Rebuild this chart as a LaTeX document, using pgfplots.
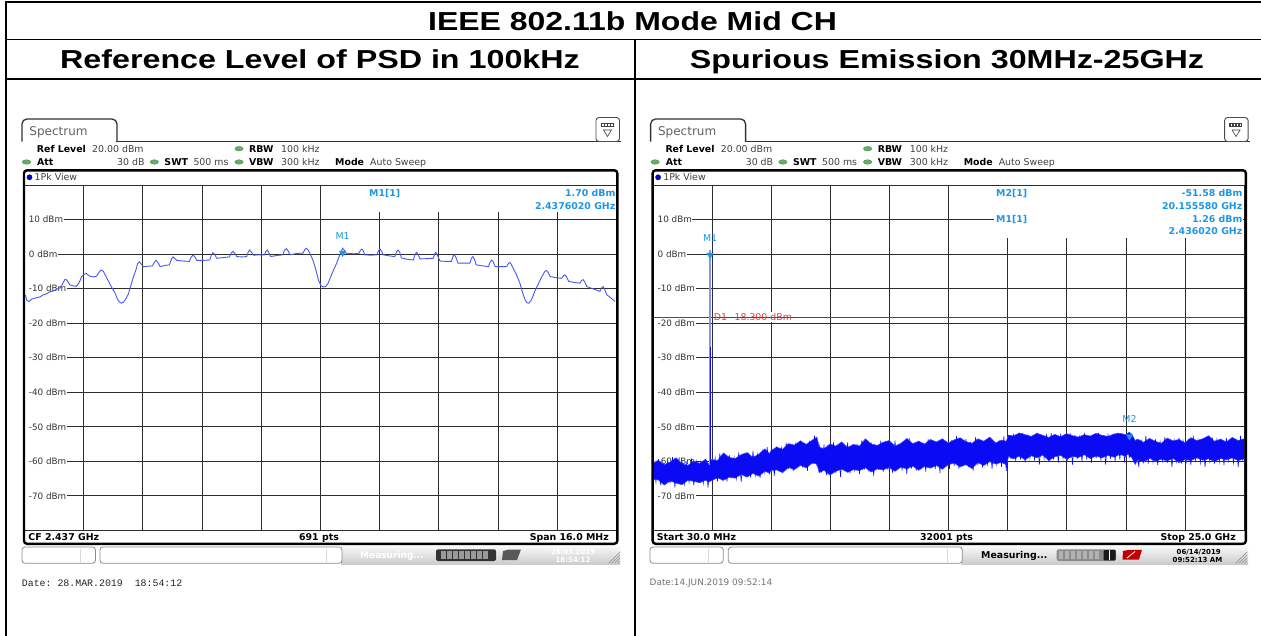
\documentclass[border=0pt]{standalone}
\usepackage{fontspec}
\setmainfont{DejaVu Sans}
\newfontfamily\titlef{Liberation Sans}
\newfontfamily\monof{Liberation Mono}
\usepackage{graphicx}
\usepackage{pgfplots}
\usepackage{pgfplotstable}
\pgfplotsset{compat=1.18}

\definecolor{mblue}{RGB}{30,150,230}
\definecolor{trc}{RGB}{70,90,240}
\definecolor{band}{RGB}{10,10,245}
\definecolor{bandedge}{RGB}{60,70,250}
\definecolor{spk}{RGB}{130,150,245}
\definecolor{gdot}{RGB}{100,175,100}
\definecolor{dred}{RGB}{240,60,60}
\definecolor{gridc}{RGB}{45,45,45}

\newcommand\fs[1]{\fontsize{#1bp}{#1bp}\selectfont}

\pgfplotstableread{
f dbm
-7.97 -11.8
-7.93 -13.4
-7.87 -13.7
-7.80 -13.0
-7.70 -12.7
-7.58 -12.4
-7.49 -11.8
-7.40 -11.5
-7.31 -10.9
-7.22 -10.7
-7.13 -10.2
-7.02 -9.7
-6.95 -8.2
-6.90 -7.3
-6.85 -7.5
-6.77 -8.9
-6.68 -9.2
-6.59 -9.3
-6.52 -8.3
-6.45 -6.5
-6.38 -5.8
-6.32 -5.6
-6.25 -6.3
-6.14 -6.6
-6.05 -6.4
-5.99 -5.4
-5.93 -4.6
-5.87 -4.9
-5.80 -6.3
-5.72 -8.0
-5.64 -9.6
-5.55 -11.2
-5.49 -12.8
-5.44 -13.8
-5.38 -14.2
-5.32 -13.9
-5.26 -13.0
-5.19 -11.6
-5.12 -9.0
-5.05 -6.5
-4.99 -4.8
-4.94 -2.8
-4.89 -2.2
-4.84 -2.9
-4.78 -3.6
-4.65 -3.5
-4.54 -3.4
-4.48 -2.3
-4.44 -1.8
-4.39 -2.4
-4.33 -3.6
-4.20 -3.3
-4.08 -3.1
-4.02 -1.3
-3.98 -0.8
-3.93 -1.3
-3.88 -1.8
-3.70 -2.0
-3.54 -2.1
-3.49 -0.8
-3.44 -0.3
-3.39 -0.8
-3.34 -1.8
-3.15 -1.8
-2.99 -1.7
-2.94 -0.1
-2.90 0.4
-2.85 -0.2
-2.80 -1.2
-2.62 -1.0
-2.46 -0.8
-2.41 0.3
-2.36 0.8
-2.31 0.2
-2.26 -0.7
-2.12 -0.8
-1.99 -0.7
-1.95 0.6
-1.91 1.2
-1.86 0.5
-1.81 -0.3
-1.65 -0.2
-1.51 -0.2
-1.47 0.8
-1.43 1.2
-1.39 0.3
-1.34 -0.7
-1.18 -0.4
-1.02 -0.2
-0.97 1.1
-0.92 1.6
-0.87 0.9
-0.82 -0.2
-0.64 0.2
-0.47 0.3
-0.42 1.3
-0.38 1.7
-0.33 1.2
-0.28 0.1
-0.20 -1.8
-0.12 -4.6
-0.05 -7.6
0.02 -9.2
0.08 -9.5
0.14 -9.4
0.20 -8.6
0.27 -6.8
0.36 -4.5
0.44 -2.6
0.51 -0.6
0.57 1.0
0.60 1.7
0.64 1.2
0.71 0.1
0.80 0.2
0.89 0.1
1.04 0.2
1.08 1.1
1.12 1.45
1.16 0.9
1.20 -0.2
1.36 -0.3
1.52 -0.2
1.57 1.0
1.61 1.45
1.65 0.9
1.70 -0.2
1.86 -0.5
2.01 -0.7
2.06 0.7
2.10 1.2
2.14 0.6
2.19 -1.1
2.35 -1.5
2.51 -1.7
2.56 0.0
2.60 0.5
2.64 -0.1
2.69 -1.4
2.87 -1.3
3.05 -1.2
3.09 0.1
3.12 0.5
3.16 -0.3
3.23 -2.0
3.39 -2.1
3.54 -2.1
3.58 -0.7
3.62 -0.2
3.66 -0.9
3.72 -2.6
3.88 -2.6
4.04 -2.6
4.08 -1.2
4.12 -0.7
4.16 -1.4
4.21 -3.1
4.38 -3.4
4.54 -3.6
4.59 -2.2
4.63 -1.7
4.67 -2.3
4.72 -3.6
4.88 -3.6
5.03 -3.6
5.08 -2.7
5.12 -2.4
5.16 -3.0
5.21 -4.1
5.30 -6.0
5.39 -8.4
5.47 -11.4
5.53 -13.2
5.58 -14.1
5.63 -14.2
5.68 -13.6
5.73 -12.5
5.80 -10.6
5.88 -8.8
5.96 -7.0
6.02 -5.8
6.07 -4.9
6.11 -4.75
6.15 -5.3
6.21 -6.5
6.36 -6.8
6.52 -7.0
6.57 -6.2
6.61 -6.0
6.65 -6.6
6.71 -7.9
6.86 -8.2
7.01 -8.4
7.06 -7.6
7.10 -7.4
7.14 -8.0
7.20 -9.4
7.38 -10.1
7.55 -10.8
7.60 -9.7
7.64 -9.4
7.68 -10.2
7.74 -11.8
7.85 -12.7
7.96 -13.7
}\psd

\pgfplotstableread{
f top bot
0.03 -60.5 -65.2
0.25 -59.7 -65.4
0.50 -61.0 -66.9
0.75 -60.2 -65.7
1.00 -59.0 -66.3
1.25 -60.7 -66.8
1.50 -61.2 -65.5
1.75 -59.9 -65.8
2.00 -60.6 -66.2
2.25 -59.4 -65.5
2.38 -60.9 -66.0
2.50 -59.5 -65.6
2.75 -59.8 -64.8
3.00 -57.6 -65.5
3.25 -58.9 -64.6
3.50 -59.2 -64.9
3.75 -58.1 -63.8
4.00 -57.5 -64.6
4.25 -58.9 -63.5
4.50 -57.9 -64.3
4.75 -56.4 -62.9
4.95 -57.8 -63.4
5.00 -57.0 -62.7
5.25 -55.9 -62.5
5.50 -56.5 -63.3
5.75 -54.9 -61.8
6.00 -55.3 -62.4
6.25 -54.1 -61.2
6.50 -55.1 -61.9
6.75 -53.9 -60.5
6.95 -53.0 -60.8
7.05 -55.9 -63.3
7.25 -56.4 -62.6
7.50 -55.0 -64.0
7.75 -55.6 -62.9
8.00 -54.4 -62.3
8.25 -56.0 -63.2
8.50 -55.1 -62.4
8.75 -55.6 -62.7
9.00 -53.5 -61.9
9.25 -55.0 -63.1
9.50 -55.4 -62.2
9.75 -54.5 -62.5
10.00 -54.0 -61.8
10.25 -55.6 -62.9
10.50 -54.8 -61.7
10.75 -53.4 -62.2
11.00 -54.9 -61.4
11.25 -54.2 -62.6
11.50 -55.0 -61.5
11.75 -53.7 -62.0
12.00 -54.4 -61.2
12.25 -53.5 -62.3
12.50 -54.7 -61.0
12.75 -53.8 -60.5
13.00 -53.2 -61.6
13.25 -54.3 -61.0
13.50 -54.8 -62.1
13.75 -53.5 -60.4
14.00 -54.2 -61.2
14.25 -53.0 -60.1
14.50 -54.7 -60.8
14.75 -53.9 -60.3
14.95 -54.2 -61.0
15.05 -52.4 -58.6
15.25 -52.7 -59.3
15.50 -51.8 -58.5
15.75 -52.3 -59.6
16.00 -52.8 -58.4
16.25 -51.9 -59.0
16.50 -52.5 -58.2
16.75 -53.1 -59.8
17.00 -52.2 -58.7
17.25 -52.9 -58.3
17.50 -52.0 -59.4
17.75 -52.6 -58.6
18.00 -53.0 -58.9
18.25 -52.3 -58.1
18.50 -52.7 -59.2
18.75 -51.9 -58.5
19.00 -52.5 -59.0
19.25 -52.8 -58.3
19.50 -52.1 -58.8
19.75 -51.9 -58.0
20.00 -52.3 -58.6
20.10 -51.8 -57.8
20.155 -51.58 -58.5
20.25 -52.2 -58.9
20.40 -54.0 -60.9
20.50 -53.6 -59.6
20.75 -54.5 -60.3
21.00 -53.4 -59.1
21.25 -54.2 -60.0
21.50 -54.8 -59.4
21.75 -53.3 -59.9
22.00 -54.1 -59.2
22.25 -53.7 -60.4
22.50 -54.6 -59.5
22.75 -53.2 -59.8
23.00 -54.0 -59.0
23.25 -53.5 -59.7
23.50 -52.6 -59.3
23.75 -54.2 -60.1
24.00 -53.6 -59.2
24.25 -54.4 -59.6
24.50 -53.1 -59.0
24.75 -54.0 -59.8
25.00 -53.5 -59.3
}\spur

% peak-detector trace: alternating max / min readings every 0.1 GHz
\pgfplotstableread{
f dbm
0.05 -60.3
0.15 -66.1
0.25 -59.4
0.35 -67.0
0.45 -60.6
0.55 -65.7
0.65 -59.9
0.75 -66.4
0.85 -58.8
0.95 -67.6
1.05 -60.2
1.15 -65.9
1.25 -59.7
1.35 -66.6
1.45 -60.5
1.55 -66.1
1.65 -59.2
1.75 -67.0
1.85 -60.0
1.95 -65.7
2.05 -60.3
2.15 -66.4
2.25 -59.4
2.35 -67.6
2.45 -59.8
2.55 -65.3
2.65 -59.0
2.75 -65.8
2.85 -57.7
2.95 -65.1
3.05 -58.9
3.15 -65.9
3.25 -58.2
3.35 -64.4
3.45 -58.9
3.55 -65.0
3.65 -57.4
3.75 -66.0
3.85 -58.0
3.95 -64.1
4.05 -58.1
4.15 -64.7
4.25 -57.1
4.35 -64.0
4.45 -58.1
4.55 -64.8
4.65 -57.2
4.75 -63.3
4.85 -55.9
4.95 -63.8
5.05 -56.4
5.15 -64.2
5.25 -55.7
5.35 -62.3
5.45 -56.2
5.55 -62.8
5.65 -54.6
5.75 -62.1
5.85 -55.1
5.95 -62.8
6.05 -55.2
6.15 -61.3
6.25 -54.0
6.35 -61.8
6.45 -54.9
6.55 -62.8
6.65 -54.0
6.75 -60.9
6.85 -52.6
6.95 -61.4
7.05 -55.6
7.15 -63.3
7.25 -55.1
7.35 -64.1
7.45 -55.8
7.55 -62.8
7.65 -54.5
7.75 -63.4
7.85 -55.2
7.95 -64.6
8.05 -55.5
8.15 -62.8
8.25 -54.5
8.35 -63.5
8.45 -55.7
8.55 -62.9
8.65 -54.9
8.75 -63.7
8.85 -53.8
8.95 -62.4
9.05 -55.1
9.15 -63.0
9.25 -54.6
9.35 -64.2
9.45 -55.3
9.55 -62.4
9.65 -54.0
9.75 -63.1
9.85 -54.7
9.95 -62.5
10.05 -55.0
10.15 -63.4
10.25 -54.0
10.35 -62.0
10.45 -55.2
10.55 -62.7
10.65 -54.4
10.75 -63.8
10.85 -53.3
10.95 -62.1
11.05 -54.6
11.15 -62.7
11.25 -54.1
11.35 -62.1
11.45 -54.8
11.55 -63.0
11.65 -53.5
11.75 -61.6
11.85 -54.2
11.95 -62.3
12.05 -54.5
12.15 -63.4
12.25 -53.5
12.35 -61.7
12.45 -54.7
12.55 -62.3
12.65 -53.8
12.75 -61.3
12.85 -52.7
12.95 -62.2
13.05 -54.1
13.15 -60.9
13.25 -53.6
13.35 -61.6
13.45 -54.4
13.55 -62.8
13.65 -53.1
13.75 -61.1
13.85 -53.9
13.95 -61.8
14.05 -54.2
14.15 -61.3
14.25 -53.3
14.35 -62.2
14.45 -54.5
14.55 -60.9
14.65 -53.8
14.75 -61.6
14.85 -52.7
14.95 -62.8
15.05 -52.5
15.15 -59.3
15.25 -52.0
15.35 -60.0
15.45 -52.8
15.55 -59.5
15.65 -51.8
15.75 -60.4
15.85 -52.3
15.95 -59.1
16.05 -52.6
16.15 -59.8
16.25 -51.7
16.35 -61.0
16.45 -52.9
16.55 -59.3
16.65 -52.2
16.75 -60.0
16.85 -51.8
16.95 -59.5
17.05 -52.5
17.15 -60.4
17.25 -52.0
17.35 -59.1
17.45 -52.8
17.55 -59.8
17.65 -51.8
17.75 -61.0
17.85 -52.3
17.95 -59.3
18.05 -52.6
18.15 -60.0
18.25 -51.7
18.35 -59.5
18.45 -52.9
18.55 -60.4
18.65 -52.2
18.75 -59.1
18.85 -51.8
18.95 -59.8
19.05 -52.5
19.15 -61.0
19.25 -52.0
19.35 -59.3
19.45 -52.8
19.55 -60.0
19.65 -51.8
19.75 -59.5
19.85 -52.3
19.95 -60.4
20.05 -51.9
20.15 -59.1
20.25 -52.4
20.35 -60.5
20.45 -54.4
20.55 -61.7
20.65 -53.7
20.75 -60.0
20.85 -52.6
20.95 -60.7
21.05 -54.0
21.15 -60.2
21.25 -53.5
21.35 -61.1
21.45 -54.3
21.55 -59.8
21.65 -53.0
21.75 -60.5
21.85 -53.8
21.95 -61.7
22.05 -54.1
22.15 -60.0
22.25 -53.2
22.35 -60.7
22.45 -54.4
22.55 -60.2
22.65 -53.7
22.75 -61.1
22.85 -52.6
22.95 -59.8
23.05 -54.0
23.15 -60.5
23.25 -53.5
23.35 -61.7
23.45 -54.3
23.55 -60.0
23.65 -53.0
23.75 -60.7
23.85 -53.8
23.95 -60.2
24.05 -54.1
24.15 -61.1
24.25 -53.2
24.35 -59.8
24.45 -54.4
24.55 -60.5
24.65 -53.7
24.75 -61.7
24.85 -52.6
24.95 -60.0
}\spurpk

\pgfplotsset{specax/.style={
  scale only axis, height=345.2bp, anchor=south west,
  ymin=-80, ymax=20, ytick={-80,-70,-60,-50,-40,-30,-20,-10,0,10,20},
  xticklabels={}, yticklabels={}, major tick length=0pt,
  grid=major, grid style={gridc, line width=0.8bp},
  axis line style={gridc, line width=0.8bp},
}}
\newcommand\ylabs[1]{%
  \pgfplotsinvokeforeach{10,0,-10,-20,-30,-40,-50,-60,-70}{%
    \node[anchor=west, fill=white, inner xsep=0.6bp, inner ysep=0.8bp, text=black!80, font=\fs{8.8}] at (axis cs:#1,##1) {\hspace*{3.8bp}##1 dBm};}}

\tikzset{
 hb/.style={anchor=base west, inner sep=0pt, font=\fs{9.4}\bfseries, text=black},
 hr/.style={anchor=base west, inner sep=0pt, font=\fs{9.4}, text=black!75},
 mb/.style={inner sep=0pt, font=\fs{9.4}\bfseries, text=mblue},
 gd/.style={fill=gdot, draw=gdot!70!black, line width=0.3bp},
}

\newcommand\chrome{%
 \draw[line width=1.3bp, black!80, rounded corners=5bp] (22,141.5) -- (22,119) -- (117,119) -- (117,141.5);
 \draw[line width=1.3bp, black!80] (116.4,141.5) -- (621,141.5);
 \node[anchor=base west, inner sep=0pt, text=black!62, font=\fs{12}] at (29.3,135) {Spectrum};
 \draw[line width=0.9bp, black!70, rounded corners=3bp, fill=white] (596,117.5) rectangle (619.5,141.5);
 \fill[black!75] (600.5,122.5) rectangle (613.5,127);
 \foreach \i in {602,605,608,611}{\fill[white] (\i,123.5) rectangle (\i+1.6,126);}
 \draw[black!75, line width=0.6bp] (603.5,130) -- (611.5,130) -- (607.5,136.5) -- cycle;
 \node[hb] at (36.7,152.3) {Ref Level};
 \node[hr] at (92,152.3) {20.00 dBm};
 \path[gd] (239,148.7) ellipse (4.2bp and 2.3bp);
 \node[hb] at (249,152.3) {RBW};
 \node[hr] at (281,152.3) {100 kHz};
 \path[gd] (26.5,162) ellipse (4.2bp and 2.3bp);
 \node[hb] at (37,165.7) {Att};
 \node[hr] at (117,165.7) {30 dB};
 \path[gd] (154.3,162) ellipse (4.2bp and 2.3bp);
 \node[hb] at (164.3,165.7) {SWT};
 \node[hr] at (193.3,165.7) {500 ms};
 \path[gd] (239,162) ellipse (4.2bp and 2.3bp);
 \node[hb] at (249,165.7) {VBW};
 \node[hr] at (281,165.7) {300 kHz};
 \node[hb] at (335,165.7) {Mode};
 \node[hr] at (370,165.7) {Auto Sweep};
 \draw[line width=2.4bp, black, rounded corners=3bp] (24,170.3) rectangle (617.3,543.8);
 \filldraw[fill=blue!85!black, draw=blue!40!black, line width=0.4bp] (29.5,177.3) circle (2.6bp);
 \node[hr] at (34.5,180.7) {1Pk View};
}

\begin{document}
\begin{tikzpicture}
\useasboundingbox (0,0) rectangle (1261bp,-636bp);
\fill[white] (0,0) rectangle (1261bp,-636bp);

% ---------- left: PSD ----------
\begin{axis}[specax, at={(24.3bp,-530.3bp)}, width=592.2bp,
  xmin=-8, xmax=8, xtick={-8,-6.4,-4.8,-3.2,-1.6,0,1.6,3.2,4.8,6.4,8}]
  \ylabs{-8}
  \addplot[trc, line width=0.9bp] table[x=f, y=dbm] {\psd};
  \addplot[only marks, mark=triangle*, mark size=3.7bp,
    mark options={rotate=180, fill=mblue, draw=mblue, yshift=4.6bp}] coordinates {(0.6,1.7)};
  \node[inner sep=0pt, text=mblue, font=\fs{9.4}] at (axis cs:0.6,1.7) [yshift=11.7bp] {M1};
\end{axis}

% ---------- right: spurious ----------
\begin{axis}[specax, at={(653.1bp,-530.3bp)}, width=591bp,
  xmin=0.03, xmax=25, xtick={0.03,2.527,5.024,7.521,10.018,12.515,15.012,17.509,20.006,22.503,25}]
  \ylabs{0.03}
  \node[anchor=west, inner xsep=1bp, inner ysep=1.5bp, fill=white, text=dred, font=\fs{9.4}] at (axis cs:2.55,-18.3) {D1\hspace{4bp}-18.300 dBm};
  \addplot[red, line width=1.1bp] coordinates {(0.03,-18.3) (6,-18.3) (12,-18.3) (18,-18.3) (25,-18.3)};
  \addplot[draw=none, stack plots=y, forget plot] table[x=f, y=bot] {\spur};
  \addplot[draw=none, fill=band, stack plots=y, forget plot] table[x=f, y expr=\thisrow{top}-\thisrow{bot}] {\spur} \closedcycle;
  \addplot[bandedge, line width=0.6bp] table[x=f, y=top] {\spur};
  \addplot[bandedge, line width=0.6bp] table[x=f, y=bot] {\spur};
  \addplot[band, line width=0.55bp] table[x=f, y=dbm] {\spurpk};
  \addplot[spk, line width=1.8bp] coordinates {(2.436,1.26) (2.436,-61)};
  \addplot[band, line width=0.8bp] coordinates {(2.436,-26.8) (2.436,-62)};
  \addplot[only marks, mark=triangle*, mark size=3.7bp,
    mark options={rotate=180, fill=mblue, draw=mblue, yshift=5.2bp}] coordinates {(2.436,1.26)};
  \node[inner sep=0pt, text=mblue, font=\fs{9.4}] at (axis cs:2.436,1.26) [yshift=12bp] {M1};
  \addplot[only marks, mark=triangle*, mark size=3.7bp,
    mark options={rotate=180, fill=mblue, draw=mblue, yshift=4.2bp}] coordinates {(20.1556,-51.58)};
  \node[inner sep=0pt, text=mblue, font=\fs{9.4}] at (axis cs:20.1556,-51.58) [yshift=12.8bp] {M2};
\end{axis}

\begin{scope}[x=1bp, y=-1bp]
% table
\draw[line width=1.6bp] (6,1.8) -- (1261,1.8);
\draw[line width=1.6bp] (6,39.3) -- (1261,39.3);
\draw[line width=1.6bp] (6,79) -- (1261,79);
\draw[line width=1.6bp] (6.2,1) -- (6.2,636);
\draw[line width=1.6bp] (635,39.3) -- (635,636);
\node[anchor=base, inner sep=0pt] at (632.5,30.7) {\scalebox{1.23}[1]{\titlef\fs{26}\bfseries IEEE 802.11b Mode Mid CH}};
\node[anchor=base, inner sep=0pt] at (320,68.6) {\scalebox{1.24}[1]{\titlef\fs{26}\bfseries Reference Level of PSD in 100kHz}};
\node[anchor=base, inner sep=0pt] at (947,68.6) {\scalebox{1.24}[1]{\titlef\fs{26}\bfseries Spurious Emission 30MHz-25GHz}};

% left chrome
\chrome
\fill[white] (362,185.8) rectangle (615.6,211.5);
\node[mb, anchor=base west] at (369,196) {M1[1]};
\node[mb, anchor=base east] at (615.5,196) {1.70 dBm};
\node[mb, anchor=base east] at (615.5,209.3) {2.4376020 GHz};
\node[hb] at (28.3,540) {CF 2.437 GHz};
\node[hb, anchor=base] at (319,540) {691 pts};
\node[hb, anchor=base east] at (609,540) {Span 16.0 MHz};
% left status bar
\shade[top color=black!3, bottom color=black!20] (341,546.5) rectangle (620,564);
\draw[black!45, line width=0.8bp, rounded corners=3bp, fill=white] (22,547) rectangle (95.5,563.3);
\draw[black!15] (80,548.5) -- (80,562);
\draw[black!45, line width=0.8bp, rounded corners=3bp, fill=white] (100,547) rectangle (342,563.3);
\draw[black!15] (326,548.5) -- (326,562);
\node[anchor=base west, inner sep=0pt, font=\fs{9}\bfseries, text=white] at (360,558.3) {Measuring...};
\fill[black!80, rounded corners=2bp] (436,549.3) rectangle (496,561);
\foreach \x in {441,447,453,459,465,471,477,483}{\fill[black!40] (\x,551) rectangle (\x+4.6,559.3);}
\fill[black!65] (503,551) -- (509,549.5) -- (521,549.5) -- (517,560) -- (502,560) -- cycle;
\node[anchor=base, inner sep=0pt, font=\fs{7}\bfseries, text=white] at (573,554) {28.03.2019};
\node[anchor=base, inner sep=0pt, font=\fs{7}\bfseries, text=white] at (573,562.3) {18:54:12};
\foreach \k in {0,3,6,9}{\draw[black!45, line width=0.5bp] (608.5+\k,563.5) -- (620,552+\k);}
\node[anchor=base west, inner sep=0pt, font=\monof\fs{9.9}, text=black!85] at (21.7,586) {Date:~28.MAR.2019~~18:54:12};

% right chrome
\begin{scope}[xshift=628.6bp]
\chrome
\end{scope}
\fill[white] (994,185.8) rectangle (1243.4,238);
\node[mb, anchor=base west] at (996,196) {M2[1]};
\node[mb, anchor=base east] at (1242.5,196) {-51.58 dBm};
\node[mb, anchor=base east] at (1242.5,209.3) {20.155580 GHz};
\node[mb, anchor=base west] at (996,222.3) {M1[1]};
\node[mb, anchor=base east] at (1242.5,222.3) {1.26 dBm};
\node[mb, anchor=base east] at (1242.5,234.6) {2.436020 GHz};
\node[hb] at (656.7,540) {Start 30.0 MHz};
\node[hb, anchor=base] at (946.5,540) {32001 pts};
\node[hb, anchor=base east] at (1236,540) {Stop 25.0 GHz};
% right status bar
\shade[top color=black!3, bottom color=black!20] (961,546.5) rectangle (1248,564);
\draw[black!45, line width=0.8bp, rounded corners=3bp, fill=white] (650,547) rectangle (723.3,563.3);
\draw[black!15] (707.7,548.5) -- (707.7,562);
\draw[black!45, line width=0.8bp, rounded corners=3bp, fill=white] (728.3,547) rectangle (962.3,563.3);
\draw[black!15] (946.7,548.5) -- (946.7,562);
\node[anchor=base west, inner sep=0pt, font=\fs{9.4}\bfseries, text=black] at (981,558.3) {Measuring...};
\fill[black!45, rounded corners=2bp] (1056.7,549.3) rectangle (1116,561);
\foreach \x in {1058.5,1064.5,1070.5,1076.5,1082.5,1088.5,1094.5}{\fill[black!30] (\x,551) rectangle (\x+4.6,559.3);}
\fill[black!90, rounded corners=1bp] (1103.5,550) rectangle (1115.5,560.3);
\fill[white] (1109.2,550) rectangle (1110,560.3);
\fill[red!75!black] (1123,551) -- (1129,549.8) -- (1142,549.8) -- (1139,559.5) -- (1122.5,559.5) -- cycle;
\draw[white, line width=0.8bp] (1127,558) -- (1135,551.5);
\node[anchor=base, inner sep=0pt, font=\fs{7}\bfseries, text=black] at (1198.7,554) {06/14/2019};
\node[anchor=base, inner sep=0pt, font=\fs{7}\bfseries, text=black] at (1197.5,562.3) {09:52:13 AM};
\foreach \k in {0,3,6,9}{\draw[black!45, line width=0.5bp] (1235.5+\k,563.5) -- (1247,552+\k);}
\node[anchor=base west, inner sep=0pt, font=\fs{8.9}, text=black!55] at (649.5,585.3) {Date:14.JUN.2019 09:52:14};
\end{scope}
\end{tikzpicture}
\end{document}
